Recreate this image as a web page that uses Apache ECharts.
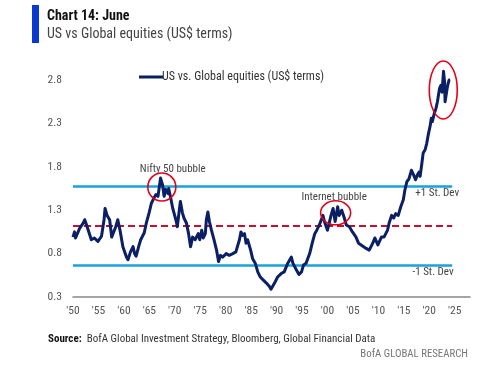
<!DOCTYPE html>
<html><head><meta charset="utf-8">
<script src="https://cdn.jsdelivr.net/npm/echarts@6/dist/echarts.min.js"></script>
<style>html,body{margin:0;padding:0;background:#fff}#c{width:500px;height:367px}</style>
</head><body><div id="c"></div>
<script>
const years = [1950.0,1950.3,1950.5,1951.3,1952.0,1952.3,1952.6,1953.0,1953.6,1954.2,1954.9,1955.6,1956.1,1956.3,1956.7,1957.2,1957.6,1958.0,1958.4,1958.8,1959.3,1959.8,1960.5,1960.8,1961.3,1961.8,1962.1,1962.4,1962.9,1963.3,1964.0,1964.4,1965.0,1965.4,1965.9,1966.3,1966.7,1967.2,1967.6,1967.9,1968.2,1968.4,1968.7,1968.8,1969.2,1969.6,1970.3,1970.5,1970.8,1971.1,1971.5,1971.8,1972.3,1972.7,1973.1,1973.5,1974.0,1974.6,1974.9,1975.3,1975.6,1976.0,1976.2,1976.5,1976.8,1977.2,1977.7,1978.2,1978.6,1979.0,1979.4,1980.1,1980.7,1981.4,1982.0,1982.7,1983.0,1983.3,1983.7,1984.0,1984.3,1984.9,1985.3,1985.8,1986.3,1986.8,1987.3,1988.0,1988.6,1988.9,1989.6,1990.2,1990.9,1991.5,1992.2,1992.9,1993.2,1993.9,1994.4,1994.9,1995.3,1995.8,1996.5,1997.0,1997.5,1997.9,1998.4,1999.1,1999.4,2000.0,2000.7,2001.1,2001.5,2002.0,2002.3,2002.8,2003.2,2003.7,2004.3,2004.9,2005.6,2006.1,2006.6,2007.6,2008.2,2008.9,2009.3,2009.9,2010.6,2011.1,2011.8,2012.1,2012.6,2013.0,2013.4,2013.9,2014.4,2014.9,2015.2,2015.6,2016.0,2016.5,2016.9,2017.3,2017.7,2018.0,2018.2,2018.5,2018.8,2019.2,2019.5,2019.8,2020.2,2020.4,2020.6,2021.0,2021.3,2021.6,2022.0,2022.3,2022.5,2022.8,2023.0,2023.1,2023.3,2023.5,2023.7,2023.9,2024.1];
const values = [0.99,1.05,0.98,1.09,1.15,1.19,1.14,1.07,0.96,0.98,0.94,1.00,1.19,1.32,1.24,1.19,0.99,1.05,1.11,1.19,1.05,0.88,0.76,0.73,0.82,0.88,0.80,0.77,0.88,0.96,1.04,1.15,1.28,1.38,1.44,1.48,1.46,1.67,1.59,1.46,1.54,1.53,1.49,1.55,1.44,1.32,1.17,1.11,1.26,1.40,1.27,1.21,1.15,1.03,0.88,0.99,0.96,1.03,0.96,1.07,0.98,1.03,1.19,1.28,1.17,1.07,0.96,0.84,0.71,0.78,0.76,0.80,0.78,0.80,0.82,0.96,1.05,1.01,1.03,0.92,0.96,0.84,0.74,0.69,0.59,0.53,0.50,0.46,0.42,0.39,0.46,0.53,0.57,0.59,0.69,0.76,0.69,0.61,0.56,0.59,0.67,0.69,0.80,0.92,1.03,1.07,1.13,1.24,1.17,1.07,1.24,1.32,1.17,1.34,1.24,1.30,1.23,1.13,1.11,1.05,0.99,0.92,0.90,0.86,0.84,0.92,0.98,0.90,0.99,0.99,1.07,1.15,1.24,1.21,1.26,1.24,1.34,1.42,1.53,1.63,1.66,1.76,1.71,1.65,1.71,1.74,1.69,1.82,1.96,2.00,2.07,2.17,2.28,2.36,2.32,2.42,2.47,2.55,2.70,2.74,2.66,2.90,2.78,2.55,2.53,2.70,2.76,2.80,2.80];
const yTicks = [0.3,0.8,1.3,1.8,2.3,2.8];
const xTickYears = [1950,1955,1960,1965,1970,1975,1980,1985,1990,1995,2000,2005,2010,2015,2020,2025];
const plusOneSD = 1.58, meanLevel = 1.125, minusOneSD = 0.665;
const levelEnd = 2024.5;
const seriesName = 'US vs. Global equities (US$ terms)';
const annotations = [
  {text:'Nifty 50 bubble', x:1969.6, y:1.775, align:'center'},
  {text:'Internet bubble', x:2001.3, y:1.45, align:'center'},
  {text:'+1 St. Dev', x:2017.25, y:1.49, align:'left'},
  {text:'-1 St. Dev', x:2016.7, y:0.58, align:'left'}
];
const circles = [
  {x:1967.45, y:1.567, rx:14, ry:14},
  {x:2001.6, y:1.27, rx:15, ry:12},
  {x:2022.75, y:2.685, rx:14, ry:29}
];

const FONT = '"Roboto Condensed",Roboto,sans-serif';
const chart = echarts.init(document.getElementById('c'), null, {renderer:'canvas'});
const data = years.map((y,i)=>[y, values[i]]);
function lvl(v, color, type, w){
  return [{coord:[1950, v], lineStyle:{color:color, type:type, width:w}}, {coord:[levelEnd, v]}];
}
chart.setOption({
  animation:false,
  textStyle:{fontFamily:FONT},
  grid:{left:73, right:30, top:36.6, bottom:70, containLabel:false},
  legend:{data:[{name:seriesName, icon:'rect'}], left:134, top:66, itemWidth:24, itemHeight:3, itemGap:4,
    textStyle:{fontFamily:FONT, fontSize:12, color:'#333', padding:[0,0,0,-6]}},
  xAxis:{type:'value', min:1950, max:2028, interval:5,
    axisLine:{show:true, lineStyle:{color:'#888', width:1.5}},
    axisTick:{show:false}, splitLine:{show:false},
    axisLabel:{color:'#555', fontSize:11.5, fontFamily:FONT, margin:8,
      formatter:v=> xTickYears.includes(v) ? "'" + String(v).slice(2) : ''}},
  yAxis:{type:'value', min:0.3, max:3.3, interval:0.5,
    axisLine:{show:false}, axisTick:{show:false}, splitLine:{show:false},
    axisLabel:{color:'#555', fontSize:11.5, fontFamily:FONT, margin:11,
      formatter:v=>{ const t = yTicks.find(k=>Math.abs(k-v)<1e-6); return t!==undefined ? t.toFixed(1) : ''; }}},
  series:[{
    name:seriesName, type:'line', data:data, showSymbol:false, symbol:'none',
    lineStyle:{color:'#0b1f65', width:3, join:'round'}, itemStyle:{color:'#0b1f65'}, z:5,
    markLine:{silent:true, symbol:['none','none'], label:{show:false}, z:3,
      data:[ lvl(plusOneSD,'#19a2dc','solid',2.5), lvl(minusOneSD,'#19a2dc','solid',2.5), lvl(meanLevel,'#c8102e',[7,4],2.2) ]}
  }]
});

function addGraphics(){
  const g = [];
  g.push({type:'rect', shape:{x:32, y:5, width:7, height:38}, style:{fill:'#0a3ad0'}});
  g.push({type:'text', left:47, top:9, style:{text:'Chart 14: June', font:'bold 14px '+FONT, fill:'#111'}});
  g.push({type:'text', left:47, top:27, style:{text:'US vs Global equities (US$ terms)', font:'14px '+FONT, fill:'#444'}});
  g.push({type:'text', left:48, top:334, style:{rich:{b:{font:'bold 11px '+FONT, fill:'#111'}, n:{font:'11px '+FONT, fill:'#333'}}, text:'{b|Source:}{n|  BofA Global Investment Strategy, Bloomberg, Global Financial Data}'}});
  g.push({type:'text', right:32, top:349, style:{text:'BofA GLOBAL RESEARCH', font:'10.8px '+FONT, fill:'#777'}});
  annotations.forEach(a=>{
    const p = chart.convertToPixel({gridIndex:0}, [a.x, a.y]);
    g.push({type:'text', x:p[0], y:p[1], z:10, style:{text:a.text, font:'11px '+FONT, fill:'#444', align:a.align, verticalAlign:'middle'}});
  });
  circles.forEach(c=>{
    const p = chart.convertToPixel({gridIndex:0}, [c.x, c.y]);
    g.push({type:'ellipse', z:10, shape:{cx:p[0], cy:p[1], rx:c.rx, ry:c.ry}, style:{fill:'none', stroke:'#e3001b', lineWidth:1.6}});
  });
  chart.setOption({graphic:g});
}
addGraphics();
</script></body></html>
